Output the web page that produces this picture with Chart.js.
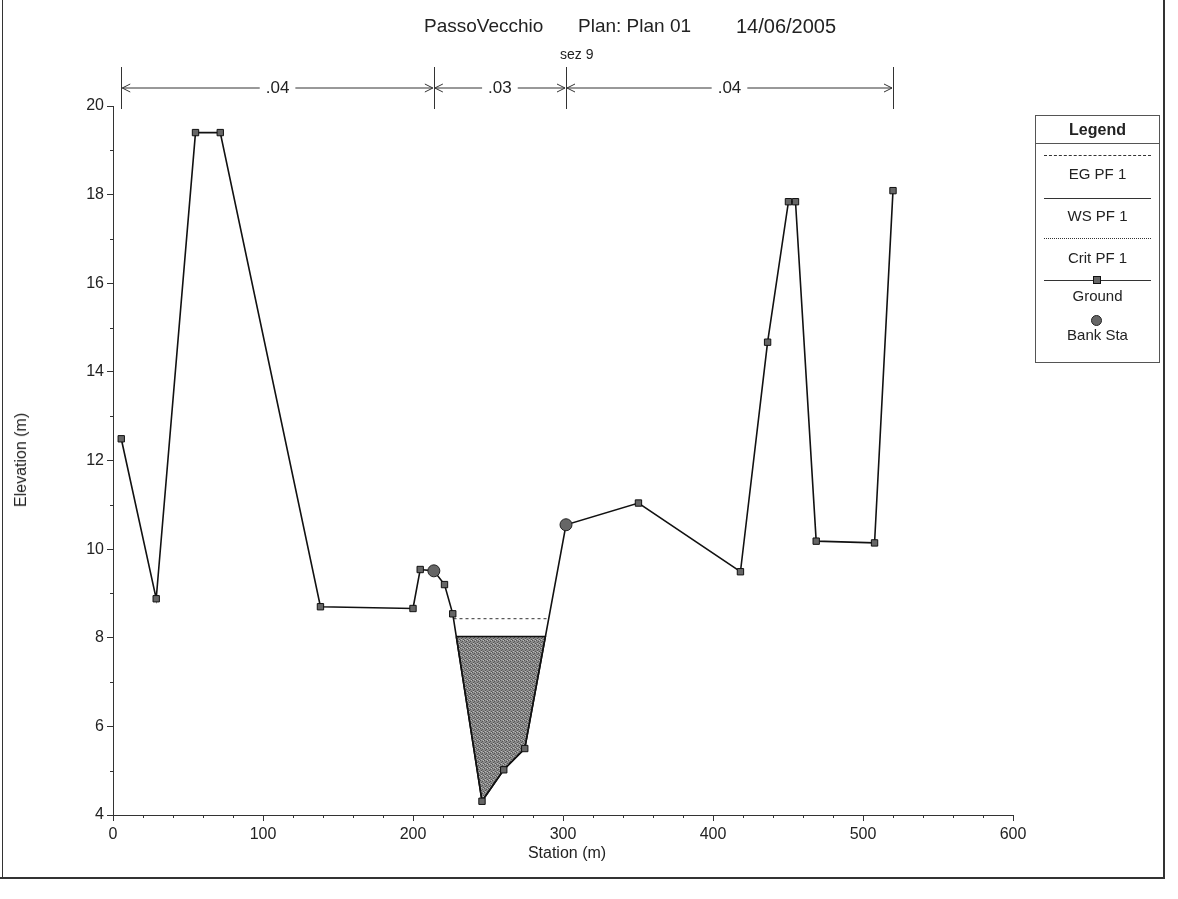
<!DOCTYPE html>
<html>
<head>
<meta charset="utf-8">
<script src="https://cdn.jsdelivr.net/npm/chart.js@4.4.1/dist/chart.umd.min.js"></script>
<style>
  body { margin: 0; background: #fff; font-family: "Liberation Sans", Arial, sans-serif; color: #222; }
  #wrap { position: relative; width: 1178px; height: 899px; overflow: hidden; }
  #chart { position: absolute; left: 0; top: 0; }
  .txt { position: absolute; white-space: nowrap; }
  .frame { position: absolute; background: #333; }
  #legend { position: absolute; left: 1035px; top: 115px; width: 123px; height: 246px; border: 1px solid #555; font-size: 15px; text-align: center; }
  #legend .hd { height: 27px; line-height: 27px; font-weight: bold; font-size: 16px; border-bottom: 1px solid #555; }
  #legend .ln { position: absolute; left: 8px; right: 8px; height: 0; }
  #legend .lb { position: absolute; left: 0; right: 0; }
</style>
</head>
<body>
<div id="wrap">
  <canvas id="chart" width="1178" height="899"></canvas>

  <div class="txt" style="left:424px;top:15px;font-size:19px;">PassoVecchio</div>
  <div class="txt" style="left:578px;top:15px;font-size:19px;">Plan: Plan 01</div>
  <div class="txt" style="left:736px;top:15px;font-size:20px;">14/06/2005</div>
  <div class="txt" style="left:560px;top:46px;font-size:14px;">sez 9</div>

  <div class="txt" style="left:21px;top:460px;font-size:16px;transform:translate(-50%,-50%) rotate(-90deg);">Elevation (m)</div>
  <div class="txt" style="left:567px;top:853px;font-size:16px;transform:translate(-50%,-50%);">Station (m)</div>

  <div id="legend">
    <div class="hd">Legend</div>
    <div class="ln" style="top:39px;border-top:1px dashed #333;"></div>
    <div class="lb" style="top:49px;">EG PF 1</div>
    <div class="ln" style="top:82px;border-top:1px solid #333;"></div>
    <div class="lb" style="top:91px;">WS PF 1</div>
    <div class="ln" style="top:122px;border-top:1px dotted #333;"></div>
    <div class="lb" style="top:133px;">Crit PF 1</div>
    <div class="ln" style="top:164px;border-top:1px solid #333;"></div>
    <div style="position:absolute;left:57px;top:160px;width:8px;height:8px;background:#666;border:1px solid #111;box-sizing:border-box;"></div>
    <div class="lb" style="top:171px;">Ground</div>
    <div style="position:absolute;left:55px;top:199px;width:11px;height:11px;border-radius:50%;background:#666;border:1px solid #222;box-sizing:border-box;"></div>
    <div class="lb" style="top:210px;">Bank Sta</div>
  </div>

  <div class="frame" style="left:2px;top:0;width:1px;height:878px;"></div>
  <div class="frame" style="left:1163px;top:0;width:2px;height:878px;"></div>
  <div class="frame" style="left:0;top:877px;width:1165px;height:2px;"></div>
</div>

<script>
// ground geometry (station m, elevation m)
const groundSta  = [5.5, 28.8, 55, 71.5, 138.3, 200, 204.8, 213.9, 221, 226.5, 246, 260.5, 274.5, 302, 350.3, 418.3, 436.4, 450.3, 455, 468.8, 507.7, 520];
const groundElev = [12.49, 8.88, 19.4, 19.4, 8.7, 8.66, 9.54, 9.51, 9.2, 8.54, 4.31, 5.02, 5.5, 10.55, 11.04, 9.49, 14.67, 17.84, 17.84, 10.18, 10.14, 18.09];

// bank stations
const bankSta = [213.9, 302];

// profile PF 1
const wsElev = 8.03;
const egElev = 8.43;

// Manning n breaks and values
const nBreaks = [5.5, 213.9, 302, 520];
const nValues = [".04", ".03", ".04"];

const xTicks = [0, 100, 200, 300, 400, 500, 600];
const yTicks = [4, 6, 8, 10, 12, 14, 16, 18, 20];

// where a level meets the ground inside the main channel
function channelCrossings(level) {
  const xs = [];
  for (let i = 0; i < groundSta.length - 1; i++) {
    const a = groundElev[i], b = groundElev[i + 1];
    if (groundSta[i] < bankSta[0] || groundSta[i + 1] > bankSta[1]) continue;
    if ((a - level) * (b - level) < 0) {
      xs.push(groundSta[i] + (level - a) / (b - a) * (groundSta[i + 1] - groundSta[i]));
    }
  }
  return [xs[0], xs[xs.length - 1]];
}

const groundPts = groundSta.map((s, i) => ({ x: s, y: groundElev[i] }));
const bankPts = bankSta.map(s => ({ x: s, y: groundElev[groundSta.indexOf(s)] }));

const [wsL, wsR] = channelCrossings(wsElev);
const waterPts = [{ x: wsL, y: wsElev }];
groundSta.forEach((s, i) => { if (s > wsL && s < wsR) waterPts.push({ x: s, y: groundElev[i] }); });
waterPts.push({ x: wsR, y: wsElev }, { x: wsL, y: wsElev });

const [egL, egR] = channelCrossings(egElev);
const egPts = [{ x: egL, y: egElev }, { x: egR, y: egElev }];

// stipple for the water area
function makePattern() {
  const c = document.createElement("canvas");
  c.width = 4; c.height = 4;
  const g = c.getContext("2d");
  g.fillStyle = "#8a8a8a"; g.fillRect(0, 0, 4, 4);
  g.fillStyle = "#555";
  g.fillRect(0, 0, 1, 1); g.fillRect(2, 1, 1, 1); g.fillRect(1, 2, 1, 1); g.fillRect(3, 3, 1, 1);
  g.fillStyle = "#bbb";
  g.fillRect(3, 0, 1, 1); g.fillRect(1, 3, 1, 1);
  return g.createPattern(c, "repeat");
}

const minorTicks = {
  id: "minorTicks",
  afterDraw(chart) {
    const { ctx, chartArea: a, scales: { x, y } } = chart;
    ctx.save();
    ctx.strokeStyle = "#333";
    ctx.lineWidth = 1;
    ctx.beginPath();
    for (let v = 5; v < 20; v += 2) {
      const py = Math.round(y.getPixelForValue(v)) + 0.5;
      ctx.moveTo(a.left - 3, py); ctx.lineTo(a.left, py);
    }
    for (let v = 20; v < 600; v += 20) {
      if (v % 100 === 0) continue;
      const px = Math.round(x.getPixelForValue(v)) + 0.5;
      ctx.moveTo(px, a.bottom); ctx.lineTo(px, a.bottom + 3);
    }
    ctx.stroke();
    ctx.restore();
  }
};

const roughness = {
  id: "roughness",
  afterDraw(chart) {
    const { ctx, scales: { x } } = chart;
    const yLine = 88;
    ctx.save();
    ctx.strokeStyle = "#333";
    ctx.fillStyle = "#222";
    ctx.lineWidth = 1;
    ctx.font = "17px 'Liberation Sans', Arial, sans-serif";
    ctx.textAlign = "center";
    ctx.textBaseline = "middle";
    nBreaks.forEach(s => {
      const px = Math.round(x.getPixelForValue(s)) + 0.5;
      ctx.beginPath(); ctx.moveTo(px, 67); ctx.lineTo(px, 109); ctx.stroke();
    });
    for (let i = 0; i < nValues.length; i++) {
      const x0 = x.getPixelForValue(nBreaks[i]);
      const x1 = x.getPixelForValue(nBreaks[i + 1]);
      const mid = (x0 + x1) / 2;
      const half = ctx.measureText(nValues[i]).width / 2 + 6;
      ctx.beginPath();
      ctx.moveTo(x0 + 1, yLine); ctx.lineTo(mid - half, yLine);
      ctx.moveTo(mid + half, yLine); ctx.lineTo(x1 - 1, yLine);
      // arrow heads
      ctx.moveTo(x0 + 9, yLine - 4); ctx.lineTo(x0 + 1, yLine); ctx.lineTo(x0 + 9, yLine + 4);
      ctx.moveTo(x1 - 9, yLine - 4); ctx.lineTo(x1 - 1, yLine); ctx.lineTo(x1 - 9, yLine + 4);
      ctx.stroke();
      ctx.fillText(nValues[i], mid, yLine);
    }
    ctx.restore();
  }
};

const tickFont = { family: "'Liberation Sans', Arial, sans-serif", size: 16 };

new Chart(document.getElementById("chart"), {
  type: "scatter",
  data: {
    datasets: [
      {
        label: "WS PF 1",
        data: waterPts,
        showLine: true,
        fill: "shape",
        backgroundColor: makePattern(),
        borderColor: "#111",
        borderWidth: 1.5,
        pointRadius: 0,
        order: 3
      },
      {
        label: "EG PF 1",
        data: egPts,
        showLine: true,
        borderColor: "#333",
        borderWidth: 1,
        borderDash: [3, 3],
        pointRadius: 0,
        order: 2
      },
      {
        label: "Ground",
        data: groundPts,
        showLine: true,
        borderColor: "#111",
        borderWidth: 1.6,
        pointStyle: "rect",
        pointRadius: 4.5,
        pointBackgroundColor: "#666",
        pointBorderColor: "#111",
        pointBorderWidth: 1,
        order: 1
      },
      {
        label: "Bank Sta",
        data: bankPts,
        showLine: false,
        pointStyle: "circle",
        pointRadius: 6,
        pointBackgroundColor: "#666",
        pointBorderColor: "#222",
        pointBorderWidth: 1,
        order: 0
      }
    ]
  },
  options: {
    responsive: false,
    animation: false,
    layout: { padding: { left: 0, top: 106, right: 165, bottom: 0 } },
    plugins: { legend: { display: false }, tooltip: { enabled: false } },
    scales: {
      x: {
        type: "linear",
        min: 0, max: 600,
        afterFit(scale) { scale.height = 84; },
        afterBuildTicks(scale) { scale.ticks = xTicks.map(v => ({ value: v })); },
        ticks: { color: "#222", font: tickFont, padding: 4 },
        grid: { drawOnChartArea: false, tickLength: 6, color: "#333" },
        border: { color: "#333", width: 1 }
      },
      y: {
        type: "linear",
        min: 4, max: 20,
        afterFit(scale) { scale.width = 113; },
        afterBuildTicks(scale) { scale.ticks = yTicks.map(v => ({ value: v })); },
        ticks: { color: "#222", font: tickFont, padding: 3 },
        grid: { drawOnChartArea: false, tickLength: 6, color: "#333" },
        border: { color: "#333", width: 1 }
      }
    }
  },
  plugins: [minorTicks, roughness]
});
</script>
</body>
</html>
